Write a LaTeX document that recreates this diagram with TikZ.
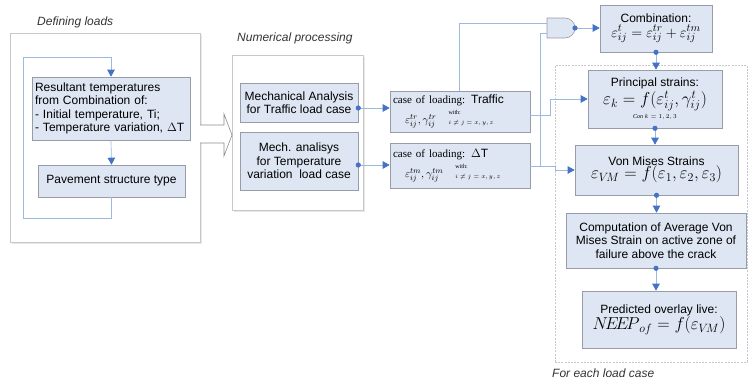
\documentclass[tikz,border=0pt]{standalone}
\usepackage{fontspec}
\setmainfont{Liberation Sans}
\newfontfamily\casefont{Liberation Serif}
\usetikzlibrary{arrows.meta,calc}

\definecolor{boxfill}{RGB}{221,230,242}
\definecolor{boxline}{RGB}{150,156,168}
\definecolor{linkline}{RGB}{155,185,225}
\definecolor{linkhead}{RGB}{68,114,196}
\definecolor{groupline}{RGB}{200,200,204}
\definecolor{groupshade}{RGB}{232,232,234}

\tikzset{
  stepbox/.style={draw=boxline, line width=0.6pt, fill=boxfill, inner sep=2pt,
    align=center, font=\fontsize{12}{13.3}\selectfont},
  grp/.style={draw=groupline, line width=0.7pt, inner sep=0pt},
  link/.style={draw=linkline, line width=0.7pt},
  tip/.style={-{Triangle[length=7pt,width=7.5pt,color=linkhead,fill=linkhead]}},
  dot/.style={fill=linkhead},
  grouplabel/.style={font=\fontsize{12}{14}\selectfont\itshape, text=black!80,
    anchor=west, inner sep=0pt},
}

% small "with: i != j = x,y,z" note used in the load case boxes
\newcommand\withnote{\raisebox{-1pt}{\shortstack[l]{\fontsize{6}{6}\selectfont\casefont with:\\[3pt]
   \fontsize{6}{6}\selectfont$i\neq j=x,y,z$}}}

\begin{document}
\begin{tikzpicture}[x=1pt,y=-1pt]
\useasboundingbox (0,0) rectangle (748,383);

% ---- group frames -------------------------------------------------------
\fill[groupshade] (12,35) rectangle (202,244);
\node[grp, fill=white, minimum width=190pt, minimum height=209pt] (defgrp) at (105,137.5) {};
\fill[groupshade] (234,57) rectangle (365,212);
\node[grp, fill=white, minimum width=131pt, minimum height=155pt] (numgrp) at (297.5,132.5) {};
\node[grp, dash pattern=on 2pt off 1.2pt, minimum width=192pt, minimum height=297pt] (eachgrp) at (651,213.5) {};

\node[grouplabel] (deflbl) at (37,22) {Defining loads};
\node[grouplabel] (numlbl) at (237,38) {Numerical processing};
\node[grouplabel] (eachlbl) at (552,373) {For each load case};

% ---- hollow arrow between the first two groups -----------------------------
\draw[draw=black!45, line width=0.6pt, fill=white]
  (200,125) -- (224,125) -- (224,114) -- (232,135) -- (224,156) -- (224,143) -- (200,143);

% ---- boxes ---------------------------------------------------------------
\node[stepbox, align=left, text width=152pt, inner xsep=3pt, minimum height=63pt] (res) at (111,108.5)
  {Resultant temperatures\\from Combination of:\\- Initial temperature, Ti;\\- Temperature variation, $\Delta$T};
\node[stepbox, minimum width=147pt, minimum height=32pt] (pav) at (111.5,181) {Pavement structure type};

\node[stepbox, minimum width=118pt, minimum height=39pt] (mech1) at (299,102.5)
  {Mechanical Analysis\\for Traffic load case};
\node[stepbox, minimum width=118pt, minimum height=58pt] (mech2) at (299,161)
  {Mech. analisys\\for Temperature\\variation\ \ load case};

\node[stepbox, align=left, minimum width=140pt, minimum height=41pt, text width=134pt] (case1) at (460,111.5)
  {{\casefont\fontsize{11}{12}\selectfont case of loading:} Traffic\\[3pt]
   \hspace*{12pt}{\fontsize{11}{12}\selectfont$\varepsilon^{tr}_{ij},\gamma^{tr}_{ij}$}\hspace{12pt}\withnote};
\node[stepbox, align=left, minimum width=140pt, minimum height=45pt, text width=134pt] (case2) at (460,165.5)
  {{\casefont\fontsize{11}{12}\selectfont case of loading:} $\Delta$T\\[3pt]
   \hspace*{12pt}{\fontsize{11}{12}\selectfont$\varepsilon^{tm}_{ij},\gamma^{tm}_{ij}$}\hspace{12pt}\withnote};

\node[stepbox, minimum width=112pt, minimum height=47pt] (comb) at (656,28.5)
  {Combination:\\[1pt]{\fontsize{15}{16}\selectfont$\varepsilon^{t}_{ij}=\varepsilon^{tr}_{ij}+\varepsilon^{tm}_{ij}$}};
\node[stepbox, minimum width=134pt, minimum height=58pt] (princ) at (655,99)
  {Principal strains:\\[1pt]{\fontsize{17}{18}\selectfont$\varepsilon_k=f(\varepsilon^{t}_{ij},\gamma^{t}_{ij})$}\\[1pt]
   {\fontsize{6}{6}\selectfont\casefont\itshape Con $k=1,2,3$}};
\node[stepbox, minimum width=163pt, minimum height=50pt] (vm) at (656.5,170)
  {Von Mises Strains\\[0pt]{\fontsize{17}{18}\selectfont$\varepsilon_{V\!M}=f(\varepsilon_1,\varepsilon_2,\varepsilon_3)$}};
\node[stepbox, minimum width=180pt, minimum height=55pt] (comp) at (656,240.5)
  {Computation of Average Von\\Mises Strain on active zone of\\failure above the crack};
\node[stepbox, minimum width=154pt, minimum height=57pt] (pred) at (659,319.5)
  {Predicted overlay live:\\[0pt]{\fontsize{17}{18}\selectfont$N\!E\!E\!P_{\,of}=f(\varepsilon_{V\!M})$}};

% ---- AND-type junction ---------------------------------------------------
\draw[draw=boxline, line width=0.6pt, fill=boxfill]
  (547,18) -- (565,18) arc[start angle=90, end angle=-90, radius=10pt] -- (547,38) -- cycle;
\coordinate (gatein1) at (547,23);
\coordinate (gatein2) at (547,33);
\coordinate (gateout) at (575,28);

% ---- feedback loop around the first two boxes -----------------------------
\coordinate (looptop) at (23,57);
\coordinate (loopbot) at (23,218);
\draw[link, tip] (loopbot) -- (looptop) -- (looptop -| res.north) -- (res.north);
\draw[link] (pav.south) -- (pav.south |- loopbot) -- (loopbot);
\draw[link, tip] (res.south) -- (pav.north);

% ---- connectors from the numerical models ----------------------------------
\coordinate (m1out) at ([yshift=-5.5pt]mech1.east);
\coordinate (m2out) at ([yshift=-4pt]mech2.east);
\draw[link, tip] (m1out) -- (m1out -| case1.west);
\draw[link, tip] (m2out) -- (m2out -| case2.west);

% traffic case: to the junction and to the principal strains
\coordinate (c1up) at (459,91);
\draw[link] (c1up) -- (c1up |- gatein1) -- (gatein1);
\coordinate (c1out) at ([yshift=-3.5pt]case1.east);
\draw[link, tip] (c1out) -- ++(20,0) |- (princ.west);

% temperature case: to the junction and to the Von Mises strains
\coordinate (c2out) at ([yshift=-0.5pt]case2.east);
\draw[link, tip] (c2out) -- ++(25,0) |- (vm.west);
\draw[link] (c2out -| 540,0) -- (540,33) -- (gatein2);

% junction to combination and the main chain
\draw[link, tip] (gateout) -- (gateout -| comb.west);
\draw[link, tip] (comb.south) -- (comb.south |- princ.north);
\draw[link, tip] (princ.south) -- (princ.south |- vm.north);
\draw[link, tip] (vm.south) -- (vm.south |- comp.north);
\draw[link, tip] (comp.south) -- (comp.south |- pred.north);

% source dots
\fill[dot] (m1out) circle (2.6pt);
\fill[dot] (m2out) circle (2.6pt);
\fill[dot] (gateout) circle (2.6pt);
\fill[dot] (comb.south) circle (2.6pt);
\fill[dot] (princ.south) circle (2.6pt);
\fill[dot] (vm.south) circle (2.6pt);
\fill[dot] (comp.south) circle (2.6pt);
\end{tikzpicture}
\end{document}
